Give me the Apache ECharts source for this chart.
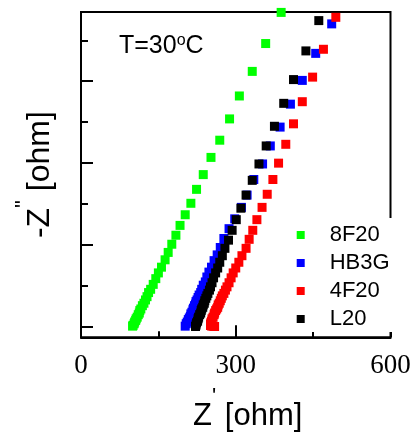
<!DOCTYPE html>
<html><head><meta charset="utf-8">
<script src="https://cdn.jsdelivr.net/npm/echarts@6/dist/echarts.min.js"></script>
<style>html,body{margin:0;padding:0;background:#fff}#c{width:416px;height:438px}</style>
</head><body><div id="c"></div>
<script>
// ---- data (Z' in ohm, -Z'' in ohm) ----
const seriesNames = ['8F20', 'HB3G', '4F20', 'L20'];
const data8F20 = [[388,384],[358,346],[332,312],[307,282],[288,254],[269,228],[252,207],[237,186],[224,168],[213,151],[202,137],[192,124],[184,112],[176,101],[169,91],[163,82],[156,73],[150,66],[145,59],[140,52],[135,46],[131,42],[128,37],[125,33],[122,29],[119,26],[116,22],[114,20],[113,17],[111,15],[109,12],[107,10],[106,8],[104,6],[103,4],[101,2],[100,1]];
const dataHB3G = [[486,370],[455,334],[429,301],[406,272],[386,244],[367,221],[352,199],[335,180],[322,161],[311,146],[298,132],[287,120],[277,108],[270,97],[264,88],[258,81],[253,73],[248,67],[244,61],[241,55],[237,51],[234,46],[232,42],[229,39],[227,36],[225,33],[223,31],[222,28],[220,26],[218,23],[217,21],[215,18],[213,16],[212,13],[210,11],[208,9],[206,6],[204,4],[202,1]];
const data4F20 = [[494,378],[470,339],[449,305],[429,275],[412,248],[397,223],[383,200],[372,180],[361,162],[351,146],[341,131],[333,118],[326,107],[320,96],[312,87],[306,79],[300,72],[295,66],[291,60],[287,54],[283,49],[280,45],[277,41],[274,38],[272,35],[270,32],[268,29],[266,27],[265,24],[263,22],[261,20],[259,17],[258,15],[256,12],[254,10],[253,7],[252,5.5],[251,3.7],[251,1.8],[253,1.2],[256,0.9],[259,0.6]];
const dataL20 = [[461,374],[436,337],[412,302],[393,273],[375,245],[359,221],[345,199],[332,179],[320,161],[310,145],[301,131],[293,118],[286,106],[279,96],[274,87],[269,79],[265,72],[261,66],[257,60],[254,54],[251,49],[249,45],[246,41],[244,38],[242,35],[240,32],[239,29],[237,27],[236,24],[234,22],[233,20],[232,17],[230,15],[228,12],[227,10],[226,7],[224,5],[223,2.4],[222,0.6]];
const xTickLabels = [0, 300, 600];
const yMajorTicks = [0, 100, 200, 300];
const yMinorTicks = [50, 150, 250, 350];
const annotationText = 'T=30';

// ---- styles ----
const seriesColors = ['#00ff00', '#0000ff', '#ff0000', '#000000'];
const SANS = 'Liberation Sans, Arial, sans-serif';
const SERIF = 'Liberation Serif, Times New Roman, serif';

const allData = [data8F20, dataHB3G, data4F20, dataL20];
const chart = echarts.init(document.getElementById('c'), null, {renderer: 'canvas'});
const yMin = -12.6, yMax = 384.5;

chart.setOption({
  animation: false,
  backgroundColor: '#fff',
  grid: {left: 81, right: 25.5, top: 12, bottom: 100.7, show: true, borderColor: '#000', borderWidth: 2, containLabel: false},
  legend: {
    data: seriesNames, orient: 'vertical', left: 290.7, top: 218,
    icon: 'rect', itemWidth: 8, itemHeight: 8, itemGap: 6,
    backgroundColor: '#fff', padding: [6, 8, 2, 6],
    textStyle: {fontFamily: SANS, fontSize: 22, color: '#000', padding: [0, 0, 0, 20]}
  },
  xAxis: {
    type: 'value', min: 0, max: 600, interval: 300,
    axisLine: {onZero: false, lineStyle: {color: '#000', width: 2}},
    axisTick: {inside: true, length: 12, lineStyle: {color: '#000', width: 2}},
    minorTick: {show: true, splitNumber: 2, length: 6, lineStyle: {color: '#000', width: 2}},
    splitLine: {show: false},
    axisLabel: {fontFamily: SERIF, fontSize: 27, color: '#000', margin: 15,
      formatter: v => xTickLabels.indexOf(v) >= 0 ? String(v) : ''},
    name: '{a|Z}{p|\'}{a| [ohm]}', nameLocation: 'middle', nameGap: 49,
    nameTextStyle: {padding: [0, 0, 0, 24], rich: {
      a: {fontFamily: SANS, fontSize: 31, color: '#000', lineHeight: 60},
      p: {fontFamily: SANS, fontSize: 22, color: '#000', lineHeight: 22, verticalAlign: 'top'}
    }}
  },
  yAxis: [{
    type: 'value', min: yMin, max: yMax,
    axisLine: {show: true, onZero: false, lineStyle: {color: '#000', width: 2}},
    axisTick: {show: true, inside: true, length: 12, customValues: yMajorTicks, lineStyle: {color: '#000', width: 2}},
    axisLabel: {show: false}, splitLine: {show: false},
    name: '{a|-Z}{p|"}{a| [ohm]}', nameLocation: 'middle', nameGap: 14,
    nameTextStyle: {rich: {
      a: {fontFamily: SANS, fontSize: 32, color: '#000', lineHeight: 54},
      p: {fontFamily: SANS, fontSize: 22, color: '#000', lineHeight: 22, verticalAlign: 'top'}
    }}
  }, {
    type: 'value', min: yMin, max: yMax, position: 'left',
    axisLine: {show: false, onZero: false},
    axisTick: {show: true, inside: true, length: 7, customValues: yMinorTicks, lineStyle: {color: '#000', width: 2}},
    axisLabel: {show: false}, splitLine: {show: false}
  }],
  graphic: [{
    type: 'text', left: 119, top: 33, z: 10,
    style: {
      text: '{a|' + annotationText + '}{s|o}{a|C}', fill: '#000',
      rich: {
        a: {fontFamily: SANS, fontSize: 25, fill: '#000', lineHeight: 26},
        s: {fontFamily: SANS, fontSize: 16, fill: '#000', lineHeight: 16, verticalAlign: 'top'}
      }
    }
  }],
  series: seriesNames.map((n, i) => ({
    name: n, type: 'scatter', data: allData[i], symbol: 'rect', symbolSize: 9,
    itemStyle: {color: seriesColors[i], opacity: 1}, clip: false, emphasis: {disabled: true}
  }))
});
</script></body></html>
